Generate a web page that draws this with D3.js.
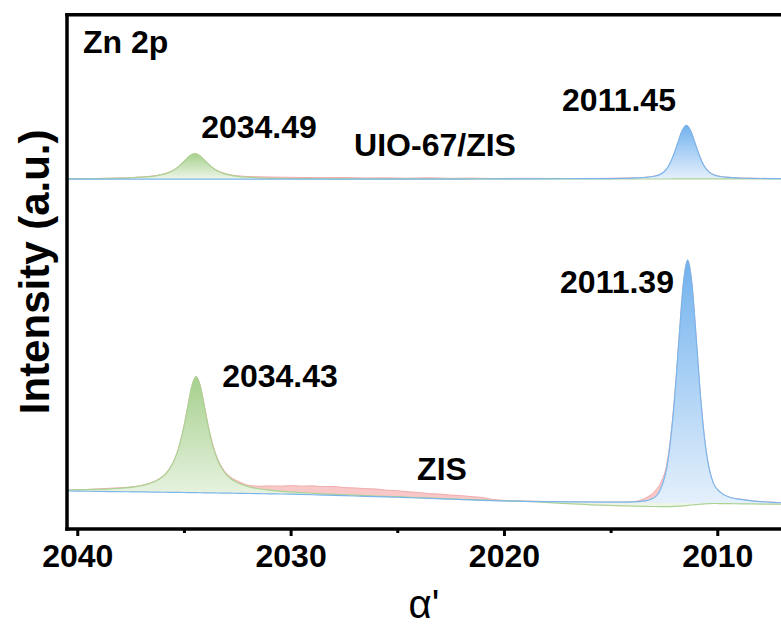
<!DOCTYPE html>
<html>
<head>
<meta charset="utf-8">
<script src="https://cdn.jsdelivr.net/npm/d3@7"></script>
<style>
  body { margin: 0; background: #ffffff; }
  svg { display: block; }
  text { font-family: "Liberation Sans", Arial, Helvetica, sans-serif; fill: #000; }
</style>
</head>
<body>
<svg id="chart" width="781" height="633"></svg>
<script>
// ---------------- Zn 2p spectra (binding energy, eV) ----------------

// ZIS sample
const energyZIS = [2040.5, 2039.5, 2038.43, 2037.43, 2036.93, 2036.43, 2036.03, 2035.73, 2035.43, 2035.23,
  2035.03, 2034.83, 2034.63, 2034.43, 2034.23, 2034.03, 2033.83, 2033.63, 2033.43, 2033.13,
  2032.83, 2032.43, 2031.93, 2031.43, 2031, 2030.43, 2030, 2029.5, 2029, 2028.5,
  2028, 2027.5, 2027, 2026.5, 2026, 2025.5, 2025, 2024.5, 2024, 2023.5,
  2023, 2022.5, 2022, 2021.5, 2021, 2020.5, 2019, 2017, 2015.5, 2014.39,
  2013.89, 2013.39, 2012.89, 2012.59, 2012.39, 2012.19, 2011.99, 2011.79, 2011.59, 2011.39,
  2011.19, 2010.99, 2010.79, 2010.59, 2010.39, 2010.19, 2009.89, 2009.39, 2008.89, 2008.39,
  2007.39, 2007];
const backgroundZIS = [7.56, 7.51, 7.45, 7.40, 7.37, 7.35, 7.32, 7.31, 7.29, 7.28,
  7.27, 7.26, 7.25, 7.23, 7.22, 7.20, 7.19, 7.18, 7.17, 7.15,
  7.13, 7.11, 7.07, 7.04, 7.01, 6.98, 6.95, 6.89, 6.83, 6.77,
  6.71, 6.65, 6.59, 6.53, 6.47, 6.41, 6.35, 6.28, 6.20, 6.13,
  6.05, 5.98, 5.90, 5.83, 5.75, 5.68, 5.55, 5.45, 5.38, 5.33,
  5.31, 5.29, 5.27, 5.25, 5.25, 5.24, 5.23, 5.22, 5.21, 5.20,
  5.19, 5.17, 5.16, 5.15, 5.14, 5.13, 5.12, 5.09, 5.07, 5.04,
  5.00, 4.98];
// Zn 2p1/2 fitted component (peak + its background)
const zn2p12ZIS = [7.79, 7.84, 7.97, 8.30, 8.65, 9.29, 10.22, 11.50, 13.75, 16.12,
  19.44, 23.69, 27.86, 29.73, 27.83, 23.63, 19.36, 16.02, 13.63, 11.34,
  10.03, 9.05, 8.35, 7.94, 7.71, 7.50, 7.38, 7.24, 7.12, 7.01,
  6.91, 6.83, 6.75, 6.67, 6.59, 6.52, 6.45, 6.37, 6.28, 6.20,
  6.12, 6.04, 5.96, 5.88, 5.80, 5.72, 5.54, 5.13, 4.82, 4.67,
  4.62, 4.58, 4.55, 4.54, 4.54, 4.54, 4.57, 4.62, 4.68, 4.76,
  4.84, 4.92, 5.00, 5.06, 5.10, 5.14, 5.13, 5.10, 5.08, 5.05,
  5.01, 4.99];
// Zn 2p3/2 fitted component (peak + background)
const zn2p32ZIS = [7.56, 7.51, 7.45, 7.40, 7.37, 7.35, 7.32, 7.31, 7.29, 7.28,
  7.27, 7.26, 7.25, 7.23, 7.22, 7.20, 7.19, 7.18, 7.17, 7.15,
  7.13, 7.11, 7.07, 7.04, 7.01, 6.98, 6.95, 6.89, 6.83, 6.77,
  6.71, 6.65, 6.59, 6.53, 6.47, 6.41, 6.35, 6.28, 6.20, 6.13,
  6.05, 5.98, 5.90, 5.83, 5.75, 5.68, 5.56, 5.46, 5.41, 5.41,
  5.46, 5.64, 6.47, 8.65, 11.55, 17.39, 26.14, 37.30, 47.74, 52.30,
  47.72, 37.25, 26.07, 17.45, 12.04, 9.13, 7.42, 6.29, 5.92, 5.64,
  5.35, 5.28];
// measured counts
const rawZIS = [7.75, 7.86, 8.10, 8.36, 8.70, 9.35, 10.30, 11.60, 13.80, 16.20,
  19.50, 23.70, 27.80, 29.70, 27.90, 23.80, 19.60, 16.30, 13.90, 11.60,
  10.30, 9.40, 8.62, 8.48, 8.55, 8.50, 8.60, 8.50, 8.56, 8.40,
  8.45, 8.22, 8.15, 8.02, 7.95, 7.72, 7.62, 7.40, 7.26, 7.05,
  6.96, 6.76, 6.66, 6.46, 6.30, 5.90, 5.60, 5.47, 5.40, 5.42,
  5.52, 6.15, 7.70, 9.70, 12.30, 17.90, 26.40, 37.40, 47.80, 52.30,
  47.80, 37.40, 26.20, 17.60, 12.10, 9.20, 7.45, 6.30, 5.95, 5.66,
  5.38, 5.30];

// UIO-67/ZIS composite (plotted with a vertical offset)
const uioOffset = 60;
const energyUIO = [2040.5, 2039.5, 2038.49, 2037.49, 2036.99, 2036.49, 2036.09, 2035.79, 2035.49, 2035.29,
  2035.09, 2034.89, 2034.69, 2034.49, 2034.29, 2034.09, 2033.89, 2033.69, 2033.49, 2033.19,
  2032.89, 2032.49, 2031.99, 2031.49, 2030.49, 2029.5, 2028.5, 2027.5, 2026.5, 2025.5,
  2024.5, 2023.5, 2022.5, 2021.5, 2020.5, 2019, 2017, 2015.5, 2014.45, 2013.95,
  2013.45, 2012.95, 2012.65, 2012.45, 2012.25, 2012.05, 2011.85, 2011.65, 2011.45, 2011.25,
  2011.05, 2010.85, 2010.65, 2010.45, 2010.25, 2009.95, 2009.45, 2008.95, 2008.45, 2007.45,
  2007];
const backgroundUIO = [7.99, 7.99, 7.99, 8.00, 8.00, 8.00, 8.00, 8.00, 8.00, 8.00,
  8.00, 8.00, 8.00, 8.00, 8.00, 8.00, 8.00, 8.00, 8.00, 8.00,
  8.00, 8.00, 8.00, 8.00, 8.00, 8.00, 8.00, 8.01, 8.01, 8.01,
  8.01, 8.01, 8.01, 8.02, 8.02, 8.02, 8.02, 8.02, 8.02, 8.02,
  8.02, 8.02, 8.02, 8.02, 8.02, 8.03, 8.03, 8.03, 8.03, 8.03,
  8.03, 8.03, 8.03, 8.03, 8.03, 8.03, 8.03, 8.03, 8.03, 8.03,
  8.03];
const zn2p12UIO = [8.06, 8.09, 8.14, 8.26, 8.37, 8.55, 8.82, 9.17, 9.74, 10.30,
  11.03, 11.87, 12.62, 12.94, 12.62, 11.87, 11.03, 10.30, 9.74, 9.17,
  8.82, 8.55, 8.37, 8.26, 8.15, 8.10, 8.07, 8.06, 8.05, 8.04,
  8.04, 8.03, 8.03, 8.04, 8.03, 8.03, 8.03, 8.02, 8.02, 8.02,
  8.02, 8.02, 8.02, 8.02, 8.02, 8.03, 8.03, 8.03, 8.03, 8.03,
  8.03, 8.03, 8.03, 8.03, 8.03, 8.03, 8.03, 8.03, 8.03, 8.03,
  8.03];
const zn2p32UIO = [7.99, 7.99, 7.99, 8.00, 8.00, 8.00, 8.00, 8.00, 8.00, 8.00,
  8.00, 8.00, 8.00, 8.00, 8.00, 8.00, 8.00, 8.00, 8.00, 8.00,
  8.00, 8.00, 8.00, 8.00, 8.00, 8.00, 8.00, 8.01, 8.01, 8.01,
  8.01, 8.01, 8.01, 8.02, 8.03, 8.05, 8.07, 8.10, 8.15, 8.21,
  8.31, 8.55, 8.97, 9.62, 10.79, 12.66, 15.06, 17.36, 18.40, 17.36,
  15.06, 12.66, 10.80, 9.63, 8.98, 8.56, 8.32, 8.22, 8.16, 8.11,
  8.10];
const rawUIO = [8.05, 8.10, 8.16, 8.30, 8.40, 8.60, 8.85, 9.20, 9.75, 10.30,
  11.05, 11.90, 12.60, 12.95, 12.65, 11.90, 11.10, 10.35, 9.80, 9.25,
  8.90, 8.65, 8.50, 8.45, 8.38, 8.32, 8.28, 8.30, 8.22, 8.25,
  8.18, 8.26, 8.15, 8.20, 8.12, 8.15, 8.10, 8.14, 8.20, 8.25,
  8.33, 8.60, 9.00, 9.65, 10.80, 12.65, 15.05, 17.35, 18.40, 17.40,
  15.10, 12.70, 10.85, 9.70, 9.05, 8.62, 8.35, 8.25, 8.18, 8.12,
  8.10];

// axis ticks
const majorTicks = [2040, 2030, 2020, 2010];
const minorTicks = [2035, 2025, 2015];

// peak position and sample annotations
const peakLabels = [
  { text: "2034.49", cx: 259, cy: 138 },
  { text: "2011.45", cx: 619, cy: 111 },
  { text: "2034.43", cx: 280, cy: 387 },
  { text: "2011.39", cx: 617, cy: 293 }
];
const sampleLabels = [
  { text: "UIO-67/ZIS", cx: 435, cy: 156 },
  { text: "ZIS", cx: 442, cy: 480 }
];

// ---------------- drawing ----------------
const W = 781;
const svg = d3.select("#chart");
const plot = { left: 67, right: W, top: 14.7, bottom: 529 };

const x = d3.scaleLinear().domain([2040.5, 2007]).range([66.6, 781.3]);
const y = d3.scaleLinear().domain([0, 100]).range([530, 14]);

const defs = svg.append("defs");
defs.append("clipPath").attr("id", "plotClip")
  .append("rect")
  .attr("x", plot.left).attr("y", plot.top)
  .attr("width", plot.right - plot.left).attr("height", plot.bottom - plot.top);

function gradient(id, top, bottom) {
  const g = defs.append("linearGradient").attr("id", id)
    .attr("x1", 0).attr("y1", 0).attr("x2", 0).attr("y2", 1);
  g.append("stop").attr("offset", "0%").attr("stop-color", top);
  g.append("stop").attr("offset", "100%").attr("stop-color", bottom);
}
gradient("fillGreen", "#a6d08d", "#eef6e9");
gradient("fillBlue", "#72b2ee", "#e5f0fc");

const colors = {
  raw: "#f3abab", rawFill: "#f8c8c8",
  green: "#acd294", blue: "#7ab6ec"
};

const spectra = [
  { energy: energyZIS, bg: backgroundZIS, p12: zn2p12ZIS, p32: zn2p32ZIS, raw: rawZIS, off: 0 },
  { energy: energyUIO, bg: backgroundUIO, p12: zn2p12UIO, p32: zn2p32UIO, raw: rawUIO, off: uioOffset }
];

const layer = svg.append("g").attr("clip-path", "url(#plotClip)");

spectra.forEach(s => {
  const idx = d3.range(s.energy.length);
  const area = vals => d3.area()
    .x(i => x(s.energy[i]))
    .y0(i => y(s.bg[i] + s.off))
    .y1(i => y(vals[i] + s.off))
    .curve(d3.curveMonotoneX)(idx);
  const line = vals => d3.line()
    .x(i => x(s.energy[i]))
    .y(i => y(vals[i] + s.off))
    .curve(d3.curveMonotoneX)(idx);

  layer.append("path").attr("d", area(s.raw)).attr("fill", colors.rawFill);
  layer.append("path").attr("d", line(s.raw)).attr("fill", "none")
    .attr("stroke", colors.raw).attr("stroke-width", 1);
  layer.append("path").attr("d", area(s.p12)).attr("fill", "url(#fillGreen)");
  layer.append("path").attr("d", area(s.p32)).attr("fill", "url(#fillBlue)");
  layer.append("path").attr("d", line(s.p12)).attr("fill", "none")
    .attr("stroke", colors.green).attr("stroke-width", 1.2);
  layer.append("path").attr("d", line(s.p32)).attr("fill", "none")
    .attr("stroke", colors.blue).attr("stroke-width", 1.2);
});

// bottom axis with major and minor ticks
const axisMajor = svg.append("g").attr("transform", `translate(0,${plot.bottom})`)
  .call(d3.axisBottom(x).tickValues(majorTicks).tickSize(7).tickSizeOuter(0).tickFormat(d3.format("d")));
axisMajor.select(".domain").remove();
axisMajor.selectAll(".tick line").attr("stroke", "#000").attr("stroke-width", 3);
axisMajor.selectAll(".tick text")
  .attr("y", 38).attr("dy", null)
  .attr("font-size", 32).attr("font-weight", "bold")
  .attr("font-family", "'Liberation Sans', Arial, sans-serif").attr("fill", "#000");

const axisMinor = svg.append("g").attr("transform", `translate(0,${plot.bottom})`)
  .call(d3.axisBottom(x).tickValues(minorTicks).tickSize(4).tickSizeOuter(0).tickFormat(""));
axisMinor.select(".domain").remove();
axisMinor.selectAll(".tick line").attr("stroke", "#000").attr("stroke-width", 3);

// frame: left, top and bottom lines
const frame = svg.append("g").attr("stroke", "#000").attr("stroke-width", 3.5).attr("fill", "none");
frame.append("line").attr("x1", plot.left).attr("x2", plot.left).attr("y1", plot.top - 1.7).attr("y2", plot.bottom + 1.7);
frame.append("line").attr("x1", plot.left - 1.7).attr("x2", W).attr("y1", plot.top).attr("y2", plot.top);
frame.append("line").attr("x1", plot.left - 1.7).attr("x2", W).attr("y1", plot.bottom).attr("y2", plot.bottom);

// annotations
svg.append("text").attr("x", 83).attr("y", 53)
  .attr("font-size", 32).attr("font-weight", "bold").text("Zn 2p");

svg.selectAll("text.peak").data(peakLabels).enter().append("text")
  .attr("class", "peak")
  .attr("x", d => d.cx).attr("y", d => d.cy)
  .attr("text-anchor", "middle")
  .attr("font-size", 32).attr("font-weight", "bold")
  .text(d => d.text);

svg.selectAll("text.sample").data(sampleLabels).enter().append("text")
  .attr("class", "sample")
  .attr("x", d => d.cx).attr("y", d => d.cy)
  .attr("text-anchor", "middle")
  .attr("font-size", 32).attr("font-weight", "bold")
  .text(d => d.text);

// axis titles
svg.append("text")
  .attr("x", (plot.left + plot.right) / 2).attr("y", 618)
  .attr("text-anchor", "middle").attr("font-size", 40)
  .text("α'");

svg.append("text")
  .attr("transform", `translate(49,${(plot.top + plot.bottom) / 2}) rotate(-90)`)
  .attr("text-anchor", "middle").attr("font-size", 42).attr("font-weight", "bold")
  .text("Intensity (a.u.)");
</script>
</body>
</html>
